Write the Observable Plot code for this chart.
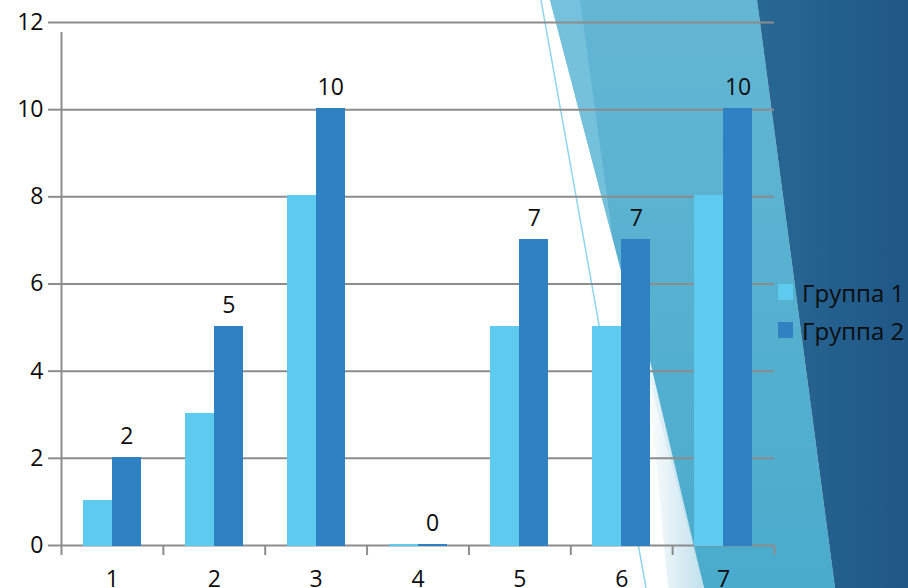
<!DOCTYPE html>
<html>
<head>
<meta charset="utf-8">
<script src="https://cdn.jsdelivr.net/npm/d3@7"></script>
<script src="https://cdn.jsdelivr.net/npm/@observablehq/plot@0.6"></script>
<style>
  html, body { margin: 0; padding: 0; background: #fff; }
  #wrap { position: relative; width: 908px; height: 588px; overflow: hidden; font-family: "Open Sans", sans-serif; }
  #bg { position: absolute; left: 0; top: 0; }
  #chart { position: absolute; left: 0; top: 0; }
  #legend { position: absolute; left: 778px; top: 273px; font-size: 24px; color: #0d0d0d; }
  .item { display: flex; align-items: center; height: 38px; }
  .sw { width: 15px; height: 16px; margin-right: 9px; }
</style>
</head>
<body>
<div id="wrap">
  <svg id="bg" width="908" height="588" viewBox="0 0 908 588">
    <defs>
      <linearGradient id="dark" x1="0" y1="0" x2="1" y2="0">
        <stop offset="0" stop-color="#286895"/>
        <stop offset="1" stop-color="#1f5786"/>
      </linearGradient>
      <linearGradient id="mid" x1="0" y1="0" x2="0" y2="1">
        <stop offset="0" stop-color="#63b6d4"/>
        <stop offset="1" stop-color="#4aabcc"/>
      </linearGradient>
      <linearGradient id="pale" x1="0" y1="0" x2="1" y2="0">
        <stop offset="0" stop-color="#ffffff"/>
        <stop offset="1" stop-color="#b9dcea"/>
      </linearGradient>
    </defs>
    <polygon points="550,0 757,0 835,588 704,588" fill="url(#mid)"/>
    <polygon points="550,0 580,0 613,240" fill="#7ac4de" opacity="0.8"/>
    <polygon points="645,340 704,588 668,588" fill="url(#pale)" opacity="0.9"/>
    <polygon points="757,0 908,0 908,588 835,588" fill="url(#dark)"/>
    <line x1="541" y1="0" x2="646" y2="588" stroke="#8fd6ee" stroke-width="1.5"/>
  </svg>
  <div id="chart"></div>
  <div id="legend"></div>
</div>
<script>
const categories = ["1", "2", "3", "4", "5", "6", "7"];
const seriesNames = ["Группа 1", "Группа 2"];
const group1 = [1, 3, 8, 0, 5, 5, 8];
const group2 = [2, 5, 10, 0, 7, 7, 10];
const yTicks = [0, 2, 4, 6, 8, 10, 12];
const colors = ["#5ecaef", "#2e82c3"];

const W = 908, H = 588, ML = 61, MR = 134, MT = 22, MB = 43;
const bw = (W - ML - MR) / categories.length;
const barW = 29;

const d1 = categories.map((c, i) => ({cat: c, value: group1[i], series: seriesNames[0]}));
const d2 = categories.map((c, i) => ({cat: c, value: group2[i], series: seriesNames[1]}));
const gridColor = "#8c8c8c";
const lastCat = [categories[categories.length - 1]];

const chart = Plot.plot({
  width: W, height: H,
  marginLeft: ML, marginRight: MR, marginTop: MT, marginBottom: MB,
  style: {background: "transparent", fontFamily: "'Open Sans', sans-serif", color: "#0d0d0d", overflow: "visible"},
  x: {type: "band", domain: categories, padding: 0, round: false, label: null},
  y: {domain: [0, 12], label: null},
  marks: [
    Plot.gridY(yTicks, {stroke: gridColor, strokeOpacity: 1, strokeWidth: 2}),
    Plot.axisY(yTicks, {tickSize: 13, tickPadding: 5, stroke: gridColor, strokeWidth: 2, fontSize: 23, fill: "#0d0d0d", tickFormat: d => String(d), label: null}),
    Plot.ruleX([categories[0]], {x: d => d, dx: -bw / 2, y1: 0, y2: 12, insetBottom: -10, stroke: gridColor, strokeWidth: 2}),
    Plot.ruleX(categories, {x: d => d, dx: -bw / 2, y1: 0, y2: 0, insetBottom: -10, stroke: gridColor, strokeWidth: 2}),
    Plot.ruleX(lastCat, {x: d => d, dx: bw / 2, y1: 0, y2: 0, insetBottom: -10, stroke: gridColor, strokeWidth: 2}),
    Plot.axisX({tickSize: 0, tickPadding: 25, fontSize: 23, fill: "#0d0d0d", label: null}),
    Plot.barY(d1, {x: "cat", y: "value", fill: colors[0], insetLeft: bw / 2 - barW, insetRight: bw / 2, insetTop: -1, insetBottom: -1, shapeRendering: "crispEdges"}),
    Plot.barY(d2, {x: "cat", y: "value", fill: colors[1], insetLeft: bw / 2, insetRight: bw / 2 - barW, insetTop: -1, insetBottom: -1, shapeRendering: "crispEdges"}),
    Plot.text(d2, {x: "cat", y: "value", text: d => String(d.value), dx: barW / 2, dy: -22, fontSize: 23, fill: "#0d0d0d"})
  ]
});
document.getElementById("chart").appendChild(chart);

const legend = document.getElementById("legend");
seriesNames.forEach((name, i) => {
  const item = document.createElement("div");
  item.className = "item";
  const sw = document.createElement("div");
  sw.className = "sw";
  sw.style.background = colors[i];
  const label = document.createElement("span");
  label.textContent = name;
  item.appendChild(sw);
  item.appendChild(label);
  legend.appendChild(item);
});
</script>
</body>
</html>
